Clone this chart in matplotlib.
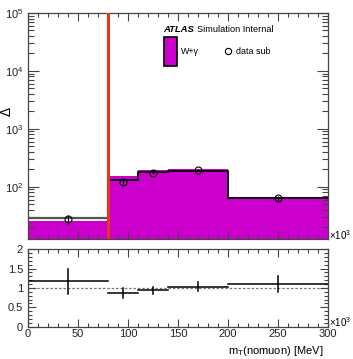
import numpy as np
import matplotlib
matplotlib.use("Agg")
import matplotlib.pyplot as plt
from matplotlib.ticker import MultipleLocator, LogLocator, NullFormatter, FixedLocator

plt.rcParams['font.family'] = ['Liberation Sans', 'DejaVu Sans']

# bin edges in units of 10^3 MeV
edges = [0, 80, 110, 140, 200, 300]
centers = [40, 95, 125, 170, 250]

# W+gamma expectation (filled) and reference outline per bin
wgamma = [25.9, 150.6, 191.0, 202.0, 66.0]
outline = [28.4, 130.6, 177.0, 189.0, 63.8]

# background-subtracted data
data_sub = [28.0, 122.0, 174.0, 196.0, 63.0]
data_err = [5.0, 14.0, 11.0, 10.0, 6.0]

# ratio panel
ratio = [1.17, 0.88, 0.94, 1.03, 1.10]
ratio_err = [0.32, 0.13, 0.09, 0.12, 0.21]

cut_value = 80

fig = plt.figure(figsize=(3.53, 3.59), dpi=100)
ax = fig.add_axes([0.0793, 0.334, 0.8497, 0.630])
axr = fig.add_axes([0.0793, 0.090, 0.8497, 0.216])

magenta = '#cc00cc'

# stacked fill
ax.stairs(wgamma, edges, fill=True, color=magenta, baseline=1e-3, zorder=1)
ax.stairs(outline[:1], edges[:2], color='#555555', lw=1.6, baseline=None, zorder=2)
ax.stairs(outline[1:], edges[1:], color='black', lw=1.3, baseline=None, zorder=2)

ax.errorbar(centers, data_sub, yerr=data_err, fmt='o', mfc='none', mec='black',
            ecolor='black', ms=5, mew=0.8, elinewidth=0.8, capsize=0, zorder=4)

ax.axvline(cut_value, color='#e8341c', lw=2.2, zorder=5)

ax.set_yscale('log')
ax.set_ylim(12.5, 1e5)
ax.set_xlim(0, 300)

# legend-like annotations
ax.text(0.45, 0.925, 'ATLAS', transform=ax.transAxes, fontsize=6.8,
        fontweight='bold', style='italic', ha='left', va='center')
ax.text(0.562, 0.925, 'Simulation Internal', transform=ax.transAxes, fontsize=6.6,
        ha='left', va='center')
box = plt.Rectangle((0.453, 0.765), 0.043, 0.13, transform=ax.transAxes,
                    facecolor=magenta, edgecolor='black', lw=1.2, zorder=6)
ax.add_patch(box)
ax.text(0.51, 0.83, 'W+γ', transform=ax.transAxes, fontsize=6.4, ha='left', va='center')
ax.plot([0.668], [0.83], 'o', transform=ax.transAxes, mfc='none', mec='black',
        ms=4.5, mew=0.8, zorder=6)
ax.text(0.695, 0.83, 'data sub', transform=ax.transAxes, fontsize=6.4,
        ha='left', va='center')

# ratio panel
for i in range(len(ratio)):
    axr.plot([edges[i], edges[i + 1]], [ratio[i], ratio[i]], color='black', lw=1.1)
    axr.plot([centers[i], centers[i]], [ratio[i] - ratio_err[i], ratio[i] + ratio_err[i]],
             color='black', lw=1.1)
axr.axhline(1.0, color='#777777', lw=0.9, ls=(0, (2, 1.5)), zorder=0)
axr.set_xlim(0, 300)
axr.set_ylim(0, 2)

spine_col = '#444444'
for a in (ax, axr):
    for s in a.spines.values():
        s.set_color(spine_col)
        s.set_linewidth(0.9)
    a.tick_params(which='both', direction='in', top=True, right=True,
                  colors=spine_col, labelcolor='#222222', labelsize=8, width=0.8)
    a.xaxis.set_major_locator(MultipleLocator(50))
    a.xaxis.set_minor_locator(MultipleLocator(10))

ax.tick_params(which='major', length=8)
ax.tick_params(which='minor', length=4)
ax.tick_params(axis='x', which='major', length=6)
ax.tick_params(axis='x', which='minor', length=3)
ax.yaxis.set_major_locator(LogLocator(base=10, numticks=10))
ax.yaxis.set_minor_locator(LogLocator(base=10, subs=np.arange(2, 10), numticks=50))
ax.yaxis.set_minor_formatter(NullFormatter())
ax.set_xticklabels([])

axr.yaxis.set_major_locator(FixedLocator([0, 0.5, 1, 1.5, 2]))
axr.yaxis.set_minor_locator(MultipleLocator(0.1))
axr.set_yticklabels(['0', '0.5', '1', '1.5', '2'])
axr.tick_params(which='major', length=6)
axr.tick_params(which='minor', length=3)
axr.tick_params(axis='x', which='major', pad=2)

axr.set_xlabel('m$_{\\mathregular{T}}$(nomuon) [MeV]', fontsize=8, ha='right', x=0.985,
               labelpad=3)

fig.text(0.932, 0.345, '×10$^{\\mathregular{3}}$', fontsize=7, ha='left', va='center')
fig.text(0.932, 0.102, '×10$^{\\mathregular{3}}$', fontsize=7, ha='left', va='center')
fig.text(0.0, 0.69, 'Δ', fontsize=10, rotation=90, ha='left', va='center')

fig.savefig('out.png', dpi=100)
